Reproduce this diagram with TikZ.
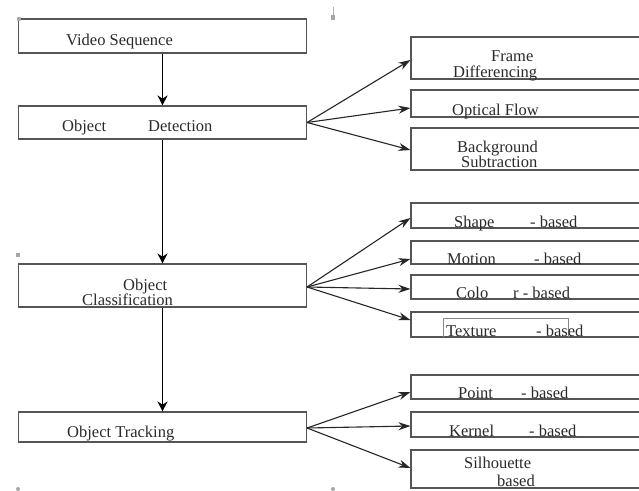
\documentclass[tikz,border=0pt]{standalone}
\usepackage{fontspec}
\setmainfont{Liberation Serif}
\usetikzlibrary{arrows.meta,calc}
\definecolor{boxline}{HTML}{555555}
\definecolor{txt}{HTML}{2A2A2A}
\begin{document}
\begin{tikzpicture}[x=1pt,y=-1pt,
  lbox/.style={draw=boxline,line width=1.1pt,minimum width=288pt,inner sep=0pt,anchor=center},
  rbox/.style={draw=boxline,line width=1.1pt,minimum width=232pt,inner sep=0pt,anchor=center},
  lbl/.style={inner sep=0pt,anchor=base west,text=txt,font=\fontsize{16.5}{17}\selectfont},
  varrow/.style={draw=black,line width=1.5pt,-{Stealth[length=10pt,width=10pt]}},
  harrow/.style={draw=black!85,line width=1.1pt,-{Stealth[length=12pt,width=8pt]}},
  anchormark/.style={fill=gray!70,draw=none}]
\useasboundingbox (0,0) rectangle (639,490);
\fill[white] (0,0) rectangle (639,490);

% left boxes
\node[lbox,minimum height=34pt] (VS) at (162.5,36) {};
\node[lbox,minimum height=33pt] (OD) at (162.5,122.5) {};
\node[lbox,minimum height=43pt] (OC) at (162.5,285.5) {};
\node[lbox,minimum height=30pt] (OT) at (162.5,427) {};

% right boxes
\node[rbox,minimum height=42pt] (FD) at (527,58) {};
\node[rbox,minimum height=27pt] (OF) at (527,103.5) {};
\node[rbox,minimum height=42pt] (BS) at (527,149) {};
\node[rbox,minimum height=25pt] (SB) at (527,215.5) {};
\node[rbox,minimum height=23pt] (MB) at (527,252.5) {};
\node[rbox,minimum height=24pt] (CB) at (527,287) {};
\node[rbox,minimum height=25pt] (TB) at (527,324.5) {};
\node[rbox,minimum height=24pt] (PB) at (527,387) {};
\node[rbox,minimum height=25pt] (KB) at (527,424.5) {};
\node[rbox,minimum height=38pt] (SH) at (527,469) {};

% inner thin frame in texture box
\draw[boxline!70,line width=0.5pt] (443,337) -- (443,318) -- (568,318) -- (568,337);

% texts left
\node[lbl] (tVS) at (66,45) {Video Sequence};
\node[lbl] (tOD1) at (62,131) {Object};
\node[lbl] (tOD2) at (148,131) {Detection};
\node[lbl] (tOC1) at (123,290) {Object};
\node[lbl] (tOC2) at (82,305) {Classification};
\node[lbl] (tOT) at (67,437) {Object Tracking};

% texts right
\node[lbl] (tFD1) at (491,61) {Frame};
\node[lbl] (tFD2) at (453,77) {Differencing};
\node[lbl] (tOF) at (452,115) {Optical Flow};
\node[lbl] (tBS1) at (457,152) {Background};
\node[lbl] (tBS2) at (461,167) {Subtraction};
\node[lbl] (tSB1) at (454,227) {Shape};
\node[lbl] (tSB2) at (530,227) {- based};
\node[lbl] (tMB1) at (447,264) {Motion};
\node[lbl] (tMB2) at (534,264) {- based};
\node[lbl] (tCB1) at (456,298) {Colo};
\node[lbl] (tCB2) at (513,298) {r - based};
\node[lbl] (tTB1) at (446,336) {Texture};
\node[lbl] (tTB2) at (536,336) {- based};
\node[lbl] (tPB1) at (458,398) {Point};
\node[lbl] (tPB2) at (521,398) {- based};
\node[lbl] (tKB1) at (449,436) {Kernel};
\node[lbl] (tKB2) at (529,436) {- based};
\node[lbl] (tSH1) at (464,468) {Silhouette};
\node[lbl] (tSH2) at (497,486) {based};

% vertical arrows
\draw[varrow] (VS.south) -- (OD.north);
\draw[varrow] (OD.south) -- (OC.north);
\draw[varrow] (OC.south) -- (OT.north);

% fan-out arrows
\draw[harrow] (OD.east) -- ($(FD.west)+(0,2)$);
\draw[harrow] (OD.east) -- ($(OF.west)+(0,4.5)$);
\draw[harrow] (OD.east) -- ($(BS.west)+(0,1)$);

\draw[harrow] ($(OC.east)+(0,1.5)$) -- ($(SB.west)+(0,2.5)$);
\draw[harrow] ($(OC.east)+(0,1.5)$) -- ($(MB.west)+(0,6.5)$);
\draw[harrow] ($(OC.east)+(0,1.5)$) -- ($(CB.west)+(0,2)$);
\draw[harrow] ($(OC.east)+(0,1.5)$) -- ($(TB.west)+(0,-4.5)$);

\draw[harrow] ($(OT.east)+(0,1)$) -- ($(PB.west)+(0,5)$);
\draw[harrow] ($(OT.east)+(0,1)$) -- ($(KB.west)+(0,1.5)$);
\draw[harrow] ($(OT.east)+(0,1)$) -- ($(SH.west)+(0,-1)$);

% small anchor marks
\fill[anchormark] (19,19) circle (2.2);
\draw[gray!60,line width=0.6pt] (333,7) -- (333,15);
\fill[anchormark] (331,15) rectangle (335,20);
\fill[anchormark] (16,253) rectangle (20,257);
\fill[anchormark] (18,489) circle (2);
\fill[anchormark] (333,489) circle (2);
\end{tikzpicture}
\end{document}
